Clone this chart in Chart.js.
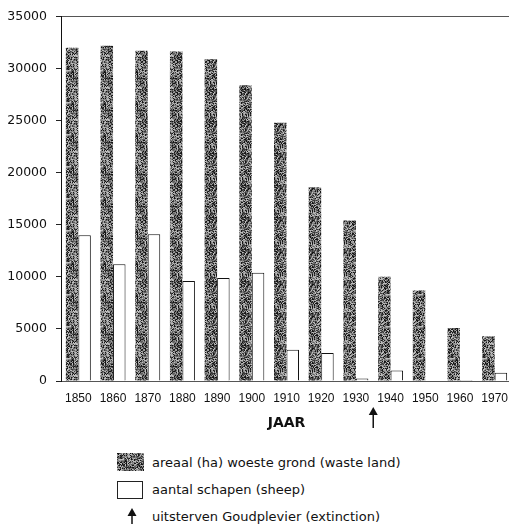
<!DOCTYPE html>
<html>
<head>
<meta charset="utf-8">
<script src="https://cdn.jsdelivr.net/npm/chart.js@4.4.1/dist/chart.umd.min.js"></script>
<style>
  html, body { margin: 0; padding: 0; background: #fff; overflow: hidden; }
  #wrap { position: relative; width: 509px; height: 524px; overflow: hidden; }
  #graphic { position: absolute; left: 0; top: 0; }
  .lgText { position: absolute; left: 152px; font: 13px "DejaVu Sans"; color: #111; line-height: 16px; white-space: nowrap; }
  #sw1 { position: absolute; left: 117px; top: 453px; }
  #sw2 { position: absolute; left: 117px; top: 481px; width: 26px; height: 18px; border: 1px solid #222; box-sizing: border-box; background: #fff; }
  #swArrow { position: absolute; left: 126px; top: 508px; }
</style>
</head>
<body>
<div id="wrap">
  <canvas id="graphic" width="512" height="432"></canvas>

  <canvas id="sw1" width="27" height="18"></canvas>
  <div class="lgText" style="top:455px">areaal (ha) woeste grond (waste land)</div>
  <div id="sw2"></div>
  <div class="lgText" style="top:482px">aantal schapen (sheep)</div>
  <svg id="swArrow" width="12" height="16">
    <polygon points="6,0 10.5,8 1.5,8" fill="#111"></polygon>
    <line x1="6" y1="7" x2="6" y2="16" stroke="#111" stroke-width="1.5"></line>
  </svg>
  <div class="lgText" style="top:509px">uitsterven Goudplevier (extinction)</div>
</div>

<script>
// Woeste grond vs schapen, 1850-1970

const years = ['1850','1860','1870','1880','1890','1900','1910','1920','1930','1940','1950','1960','1970'];
const wasteLand = [32000, 32200, 31700, 31650, 30900, 28400, 24800, 18600, 15400, 10000, 8700, 5100, 4300];
const sheep = [14000, 11200, 14100, 9600, 9900, 10400, 3000, 2700, 250, 1000, 50, 100, 800];
const yTicks = [0, 5000, 10000, 15000, 20000, 25000, 30000, 35000];
const extinctionYear = 1935;

const wasteLabel = 'areaal (ha) woeste grond (waste land)';
const sheepLabel = 'aantal schapen (sheep)';
const axisTitle = 'JAAR';

//-----PATTERN (grainy grey like the printed raster)
function shadeAt(x, y) {
  let h = Math.imul(x, 374761393) + Math.imul(y, 668265263);
  h = Math.imul(h ^ (h >>> 13), 1274126177);
  h = h ^ (h >>> 16);
  return (h >>> 0) % 6;
}

function makeGrain(w, h) {
  const shades = ['#141414', '#3a3a3a', '#606060', '#838383', '#a0a0a0', '#bdbdbd'];
  const c = document.createElement('canvas');
  c.width = w; c.height = h;
  const g = c.getContext('2d');
  for (let y = 0; y < h; y++) {
    for (let x = 0; x < w; x++) {
      g.fillStyle = shades[shadeAt(x, y)];
      g.fillRect(x, y, 1, 1);
    }
  }
  return c;
}

const grainTile = makeGrain(32, 32);
const ctx = document.getElementById('graphic').getContext('2d');
const grain = ctx.createPattern(grainTile, 'repeat');

// legend swatch
const sw = document.getElementById('sw1').getContext('2d');
sw.fillStyle = sw.createPattern(grainTile, 'repeat');
sw.fillRect(0, 0, 27, 18);

//-----ARROW (extinction mark under the axis)
const arrowPlugin = {
  id: 'arrowMark',
  afterDraw(chart) {
    const xs = chart.scales.x;
    const i = years.indexOf('1930');
    const x0 = xs.getPixelForValue(i);
    const x1 = xs.getPixelForValue(i + 1);
    const x = x0 + (extinctionYear - 1930) / 10 * (x1 - x0);
    const c = chart.ctx;
    c.save();
    c.fillStyle = '#111';
    c.strokeStyle = '#111';
    c.lineWidth = 1.5;
    c.beginPath();
    c.moveTo(x, 407);
    c.lineTo(x + 4.5, 415);
    c.lineTo(x - 4.5, 415);
    c.closePath();
    c.fill();
    c.beginPath();
    c.moveTo(x, 414);
    c.lineTo(x, 428);
    c.stroke();
    c.restore();
  }
};

let chart1 = new Chart(ctx, {
  type: 'bar',
  data: {
    labels: years,
    datasets: [
      {
        label: wasteLabel,
        data: wasteLand,
        backgroundColor: grain,
        borderWidth: 0,
      },
      {
        label: sheepLabel,
        data: sheep,
        backgroundColor: '#fff',
        borderColor: '#111',
        borderWidth: 1,
      },
    ]
  },
  options: {
    responsive: false,
    animation: false,
    layout: { padding: { top: 15, right: 0, bottom: 0, left: 0 } },
    datasets: { bar: { categoryPercentage: 0.72, barPercentage: 1.0 } },
    plugins: {
      legend: { display: false },
      tooltip: { enabled: false },
    },
    scales: {
      x: {
        offset: true,
        grid: { display: false, drawTicks: false },
        border: { display: true, color: '#555', width: 1 },
        ticks: { color: '#111', padding: 10, font: { family: 'Liberation Sans', size: 12 } },
        title: {
          display: true,
          text: axisTitle,
          color: '#111',
          padding: { top: 0, bottom: 0 },
          font: { family: 'DejaVu Sans', size: 14, weight: 'bold' },
        },
        afterFit(scale) {
          scale.height = 51;
          scale.paddingLeft = 0;
          scale.paddingRight = 0;
        },
      },
      y: {
        min: 0,
        max: 35000,
        afterBuildTicks(scale) { scale.ticks = yTicks.map(v => ({ value: v })); },
        grid: {
          color: c => (c.tick && c.tick.value === 35000) ? '#555' : 'rgba(0,0,0,0)',
          tickColor: '#222',
          tickLength: 5,
        },
        border: { display: true, color: '#111', width: 1 },
        ticks: {
          color: '#111',
          padding: 9,
          font: { family: 'DejaVu Sans', size: 12.5 },
          callback: v => String(v),
        },
        afterFit(scale) { scale.width = 61; },
      }
    }
  },
  plugins: [arrowPlugin]
});
</script>
</body>
</html>
